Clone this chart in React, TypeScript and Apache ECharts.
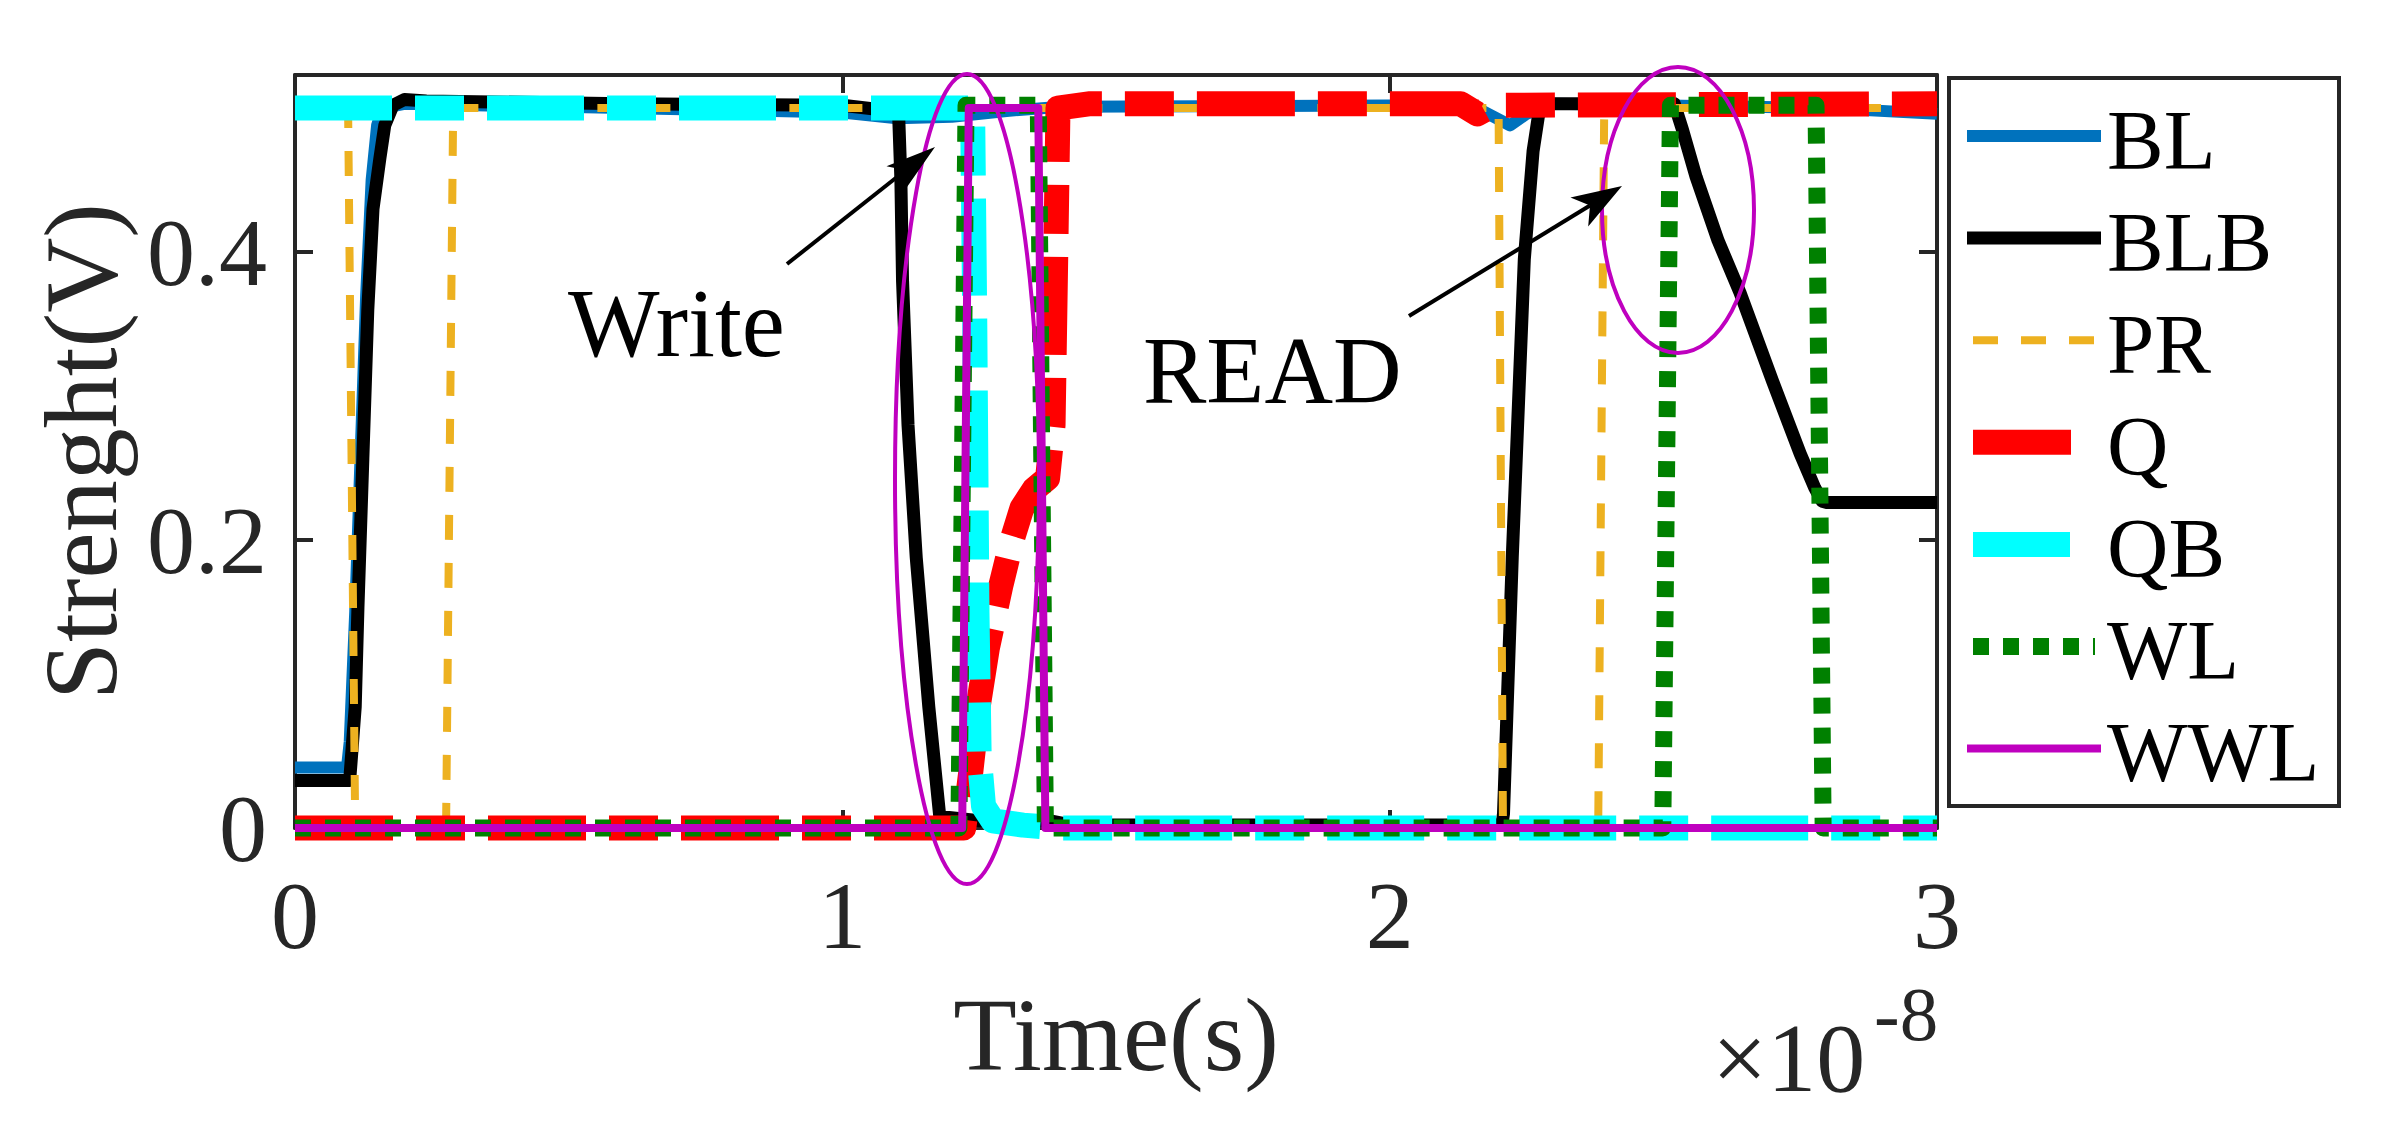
import React, { useEffect, useRef } from 'react';
import * as echarts from 'echarts';

// ---------- data (time in units of 1e-8 s, voltage in V) ----------
const xTickValues = [0, 1, 2, 3];
const yTickValues = [0, 0.2, 0.4];
const seriesNames = ['BL', 'BLB', 'PR', 'Q', 'QB', 'WL', 'WWL'];

const BL: number[][] = [
  [0, 0.042], [0.095, 0.042], [0.1, 0.06], [0.11, 0.15], [0.12, 0.26], [0.13, 0.37], [0.14, 0.45],
  [0.15, 0.488], [0.16, 0.5], [0.2, 0.503], [0.6, 0.5], [1.0, 0.497], [1.1, 0.493], [1.2, 0.494],
  [1.3, 0.498], [1.4, 0.501], [2.1, 0.502], [2.17, 0.498], [2.22, 0.488], [2.25, 0.496], [2.3, 0.503],
  [2.8, 0.5], [3.0, 0.496],
];
const BLB: number[][] = [
  [0, 0.033], [0.1, 0.033], [0.1005, 0.036], [0.11, 0.084], [0.115, 0.153], [0.124, 0.257], [0.133, 0.36],
  [0.1425, 0.43], [0.155, 0.465], [0.164, 0.488], [0.179, 0.502], [0.2, 0.506], [0.24, 0.505], [0.6, 0.503],
  [1.0, 0.502], [1.09, 0.498], [1.103, 0.494], [1.107, 0.45], [1.11, 0.38], [1.12, 0.28], [1.135, 0.188],
  [1.158, 0.084], [1.178, 0.008], [1.25, 0.005], [1.38, 0.005], [1.42, 0.002], [2.205, 0.002], [2.208, 0.01],
  [2.224, 0.188], [2.246, 0.395], [2.262, 0.47], [2.272, 0.495], [2.285, 0.503], [2.52, 0.503], [2.535, 0.485],
  [2.56, 0.452], [2.6, 0.408], [2.64, 0.372], [2.7, 0.31], [2.75, 0.26], [2.777, 0.236], [2.79, 0.227],
  [2.8, 0.226], [3.0, 0.226],
];
const PR: number[][] = [
  [0, 0.5], [0.097, 0.5], [0.11, 0], [0.276, 0], [0.289, 0.5], [2.199, 0.5], [2.207, 0],
  [2.381, 0], [2.392, 0.5], [3.0, 0.5],
];
const Q: number[][] = [
  [0, 0], [1.222, 0], [1.235, 0.04], [1.248, 0.084], [1.265, 0.125], [1.29, 0.169], [1.31, 0.2],
  [1.328, 0.222], [1.35, 0.235], [1.375, 0.243], [1.385, 0.28], [1.39, 0.4], [1.394, 0.5], [1.45, 0.503],
  [2.13, 0.503], [2.16, 0.496], [2.19, 0.502], [3.0, 0.503],
];
const QB: number[][] = [
  [0, 0.5], [1.238, 0.5], [1.242, 0.35], [1.246, 0.15], [1.25, 0.05], [1.258, 0.015], [1.275, 0.005],
  [1.33, 0.002], [1.4, 0], [3.0, 0],
];
const WL: number[][] = [
  [0, 0], [1.213, 0], [1.226, 0.502], [1.358, 0.502], [1.371, 0], [2.499, 0], [2.513, 0.502],
  [2.779, 0.502], [2.792, 0], [3.0, 0],
];
const WWL: number[][] = [
  [0, 0], [1.219, 0], [1.231, 0.5], [1.358, 0.5], [1.371, 0], [3.0, 0],
];
const seriesData = [BL, BLB, PR, Q, QB, WL, WWL];

// ---------- styles ----------
const colors = ['#0072BD', '#000000', '#EDB120', '#FF0000', '#00FFFF', '#008000', '#BF00BF'];
const widths = [12, 13, 8, 25, 25, 17, 8];
const dashes: (number[] | 'solid')[] = ['solid', 'solid', [25, 23], [98, 23, 49, 23], [97, 23, 49, 23], [16, 14], 'solid'];
const legendLine: number[][] = [
  [1967, 2101], [1967, 2101], [1973, 2095], [1973, 2071], [1973, 2071], [1973, 2095], [1967, 2101],
];

const FONT = '"Liberation Serif", "Times New Roman", serif';
const AXIS = '#262626';

function arrow(x1: number, y1: number, x2: number, y2: number, L: number, W: number) {
  const dx = x2 - x1, dy = y2 - y1;
  const len = Math.hypot(dx, dy);
  const ux = dx / len, uy = dy / len;
  const px = -uy, py = ux;
  const bx = x2 - ux * L, by = y2 - uy * L;
  const nx = x2 - ux * L * 0.75, ny = y2 - uy * L * 0.75;
  return [
    { type: 'line', z: 100, shape: { x1, y1, x2: nx, y2: ny }, style: { stroke: '#000', lineWidth: 4 } },
    {
      type: 'polygon', z: 100,
      shape: { points: [[x2, y2], [bx + px * W, by + py * W], [nx, ny], [bx - px * W, by - py * W]] },
      style: { fill: '#000' },
    },
  ];
}

export default function App() {
  const ref = useRef<HTMLDivElement>(null);
  useEffect(() => {
    document.body.style.margin = '0';
    const chart = echarts.init(ref.current!, null, { renderer: 'svg' });

    const axisCommon = {
      axisLine: { show: true, onZero: false, lineStyle: { color: AXIS, width: 4 } },
      axisTick: { show: true, inside: true, length: 18, lineStyle: { color: AXIS, width: 4 } },
      splitLine: { show: false },
    };

    const legendGraphics: any[] = [
      {
        type: 'rect', z: 90,
        shape: { x: 1949, y: 78, width: 390, height: 728 },
        style: { fill: '#fff', stroke: AXIS, lineWidth: 4 },
      },
    ];
    seriesNames.forEach((name, i) => {
      const rowY = 136 + i * 102.1;
      const d = dashes[i];
      legendGraphics.push({
        type: 'line', z: 95,
        shape: { x1: legendLine[i][0], y1: rowY, x2: legendLine[i][1], y2: rowY },
        style: { stroke: colors[i], lineWidth: widths[i], lineDash: d === 'solid' ? null : d, lineCap: 'butt' },
      });
      legendGraphics.push({
        type: 'text', z: 95,
        x: 2107, y: rowY + 3.5,
        style: { text: name, fontSize: 85, fontFamily: FONT, fill: '#000', verticalAlign: 'middle', align: 'left' },
      });
    });

    const annotations: any[] = [
      { type: 'ellipse', z: 100, shape: { cx: 967, cy: 479, rx: 72, ry: 405 }, style: { fill: 'none', stroke: '#BF00BF', lineWidth: 4 } },
      { type: 'ellipse', z: 100, shape: { cx: 1678, cy: 210, rx: 76, ry: 143 }, style: { fill: 'none', stroke: '#BF00BF', lineWidth: 4 } },
      ...arrow(787, 264, 935, 147, 50, 15),
      ...arrow(1409, 316, 1622, 186, 50, 17),
      { type: 'text', z: 100, x: 568, y: 323, style: { text: 'Write', fontSize: 97, fontFamily: FONT, fill: '#000', verticalAlign: 'middle', align: 'left' } },
      { type: 'text', z: 100, x: 1143, y: 371, style: { text: 'READ', fontSize: 95, fontFamily: FONT, fill: '#000', verticalAlign: 'middle', align: 'left' } },
      { type: 'text', z: 100, x: 1712, y: 1058, style: { text: '×10', fontSize: 98, fontFamily: FONT, fill: AXIS, verticalAlign: 'middle', align: 'left' } },
      { type: 'text', z: 100, x: 1874, y: 1014, style: { text: '-8', fontSize: 77, fontFamily: FONT, fill: AXIS, verticalAlign: 'middle', align: 'left' } },
    ];

    chart.setOption({
      animation: false,
      backgroundColor: '#ffffff',
      textStyle: { fontFamily: FONT },
      grid: { left: 295, top: 75, width: 1642, height: 753, containLabel: false },
      xAxis: [
        {
          type: 'value', min: 0, max: 3, interval: 1, position: 'bottom',
          ...axisCommon,
          axisLabel: {
            show: true, margin: 39, fontSize: 96, fontFamily: FONT, color: AXIS,
            formatter: (v: number) => (xTickValues.includes(v) ? String(v) : ''),
          },
          name: 'Time(s)', nameLocation: 'middle', nameGap: 154,
          nameTextStyle: { fontSize: 104, fontFamily: FONT, color: AXIS },
        },
        {
          type: 'value', min: 0, max: 3, interval: 1, position: 'top',
          ...axisCommon, axisLabel: { show: false },
        },
      ],
      yAxis: [
        {
          type: 'value', min: 0, max: 0.523, interval: 0.2, position: 'left',
          ...axisCommon,
          axisLabel: {
            show: true, margin: 28, fontSize: 96, fontFamily: FONT, color: AXIS, showMaxLabel: false,
            formatter: (v: number) => {
              const t = yTickValues.find((y) => Math.abs(y - v) < 1e-6);
              return t === undefined ? '' : t === 0 ? '0' : t.toFixed(1);
            },
          },
          name: 'Strenght(V)', nameLocation: 'middle', nameGap: 163, nameRotate: 90,
          nameTextStyle: { fontSize: 104, fontFamily: FONT, color: AXIS },
        },
        {
          type: 'value', min: 0, max: 0.523, interval: 0.2, position: 'right',
          ...axisCommon, axisLabel: { show: false },
        },
      ],
      series: seriesNames.map((name, i) => ({
        name,
        type: 'line',
        xAxisIndex: 0,
        yAxisIndex: 0,
        data: seriesData[i],
        showSymbol: false,
        symbol: 'none',
        clip: false,
        silent: true,
        z: 2 + i * 0.01,
        lineStyle: { color: colors[i], width: widths[i], type: dashes[i], cap: 'butt', join: 'round' },
      })),
      graphic: [...legendGraphics, ...annotations],
    });

    return () => chart.dispose();
  }, []);

  return (
    <div
      ref={ref}
      style={{ position: 'absolute', left: 0, top: 0, width: 2389, height: 1133, background: '#fff' }}
    />
  );
}
